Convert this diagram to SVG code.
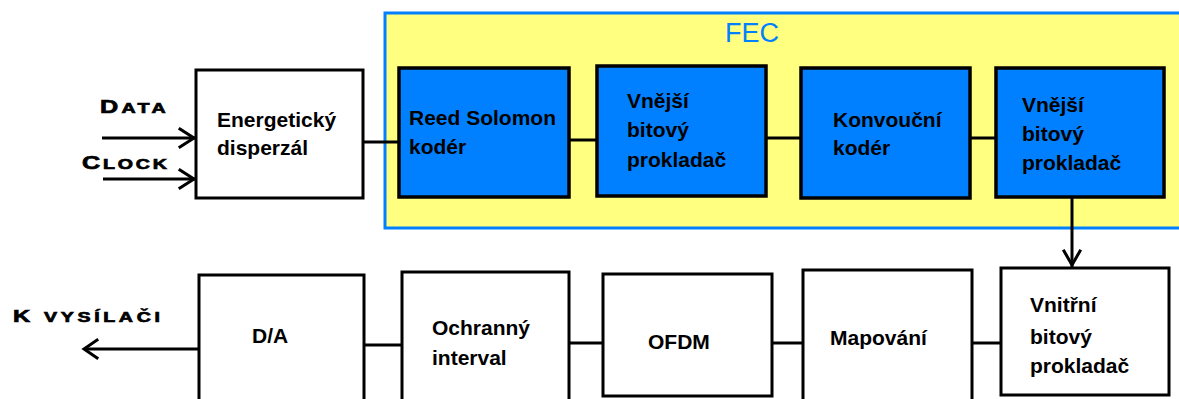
<svg xmlns="http://www.w3.org/2000/svg" width="1179" height="399" viewBox="0 0 1179 399">
<style>
.box{fill:#fff;stroke:#000;stroke-width:3}
.blue{fill:#0080ff;stroke:#000;stroke-width:3.5}
.t{font-family:"Liberation Sans",Arial,sans-serif;font-weight:bold;font-size:21px;fill:#000}
.sc{font-family:"Liberation Sans",Arial,sans-serif;font-weight:900;fill:#000;stroke:#000;stroke-width:0.7}
.ln{stroke:#000;stroke-width:3;fill:none}
.ah{stroke:#000;stroke-width:3;fill:none;stroke-linecap:square}
</style>
<rect width="1179" height="399" fill="#fff"/>
<g id="fec">
<rect x="385" y="13" width="800" height="215" fill="#ffff80" stroke="#0080ff" stroke-width="3"/>
<text x="725" y="42" font-family="'Liberation Sans',Arial,sans-serif" font-size="27" fill="#0080ff">FEC</text>
</g>
<g id="connectors">
<line class="ln" x1="102" y1="138" x2="196" y2="138"/>
<polyline class="ah" points="180,129 194,138 180,147"/>
<line class="ln" x1="103" y1="179" x2="196" y2="179"/>
<polyline class="ah" points="180,170 194,179 180,188"/>
<line class="ln" x1="363" y1="142" x2="399" y2="142"/>
<line class="ln" x1="569" y1="140" x2="597" y2="140"/>
<line class="ln" x1="766" y1="138" x2="801" y2="138"/>
<line class="ln" x1="970" y1="138" x2="996" y2="138"/>
<line class="ln" x1="1072" y1="197" x2="1072" y2="268"/>
<polyline class="ah" points="1064,251 1072,265 1080,251"/>
<line class="ln" x1="972" y1="343" x2="1001" y2="343"/>
<line class="ln" x1="772" y1="343" x2="803" y2="343"/>
<line class="ln" x1="569" y1="343" x2="603" y2="343"/>
<line class="ln" x1="364" y1="345" x2="402" y2="345"/>
<line class="ln" x1="84" y1="349" x2="199" y2="349"/>
<polyline class="ah" points="97,340 84,349 97,358"/>
</g>
<g id="labels">
<text class="sc" transform="translate(100,113) scale(1.4,1)" letter-spacing="2.4"><tspan font-size="18">D</tspan><tspan font-size="14">ATA</tspan></text>
<text class="sc" transform="translate(82,169) scale(1.4,1)" letter-spacing="2"><tspan font-size="18">C</tspan><tspan font-size="14">LOCK</tspan></text>
<text class="sc" transform="translate(13,322) scale(1.4,1)" letter-spacing="2.6"><tspan font-size="17">K </tspan><tspan font-size="14">VYSÍLAČI</tspan></text>
</g>
<g id="energeticky">
<rect class="box" x="196" y="70" width="167" height="128"/>
<text class="t"><tspan x="217" y="127">Energetický</tspan><tspan x="217" y="155">disperzál</tspan></text>
</g>
<g id="reed-solomon">
<rect class="blue" x="399" y="68" width="170" height="129"/>
<text class="t"><tspan x="409" y="125">Reed Solomon</tspan><tspan x="409" y="154">kodér</tspan></text>
</g>
<g id="vnejsi1">
<rect class="blue" x="597" y="66" width="169" height="130"/>
<text class="t"><tspan x="627" y="108">Vnější</tspan><tspan x="627" y="137">bitový</tspan><tspan x="627" y="167">prokladač</tspan></text>
</g>
<g id="konvoucni">
<rect class="blue" x="801" y="68" width="169" height="130"/>
<text class="t"><tspan x="833" y="127">Konvouční</tspan><tspan x="833" y="155">kodér</tspan></text>
</g>
<g id="vnejsi2">
<rect class="blue" x="996" y="68" width="168" height="129"/>
<text class="t"><tspan x="1022" y="112">Vnější</tspan><tspan x="1022" y="141">bitový</tspan><tspan x="1022" y="170">prokladač</tspan></text>
</g>
<g id="vnitrni">
<rect class="box" x="1001" y="268" width="168" height="127"/>
<text class="t"><tspan x="1030" y="312">Vnitřní</tspan><tspan x="1030" y="344">bitový</tspan><tspan x="1030" y="373">prokladač</tspan></text>
</g>
<g id="mapovani">
<rect class="box" x="803" y="270" width="169" height="135"/>
<text class="t" x="830" y="345">Mapování</text>
</g>
<g id="ofdm">
<rect class="box" x="603" y="274" width="169" height="122"/>
<text class="t" x="648" y="349">OFDM</text>
</g>
<g id="ochranny">
<rect class="box" x="402" y="272" width="167" height="135"/>
<text class="t"><tspan x="432" y="335">Ochranný</tspan><tspan x="432" y="365">interval</tspan></text>
</g>
<g id="da">
<rect class="box" x="199" y="275" width="165" height="135"/>
<text class="t" x="252" y="343">D/A</text>
</g>
</svg>
